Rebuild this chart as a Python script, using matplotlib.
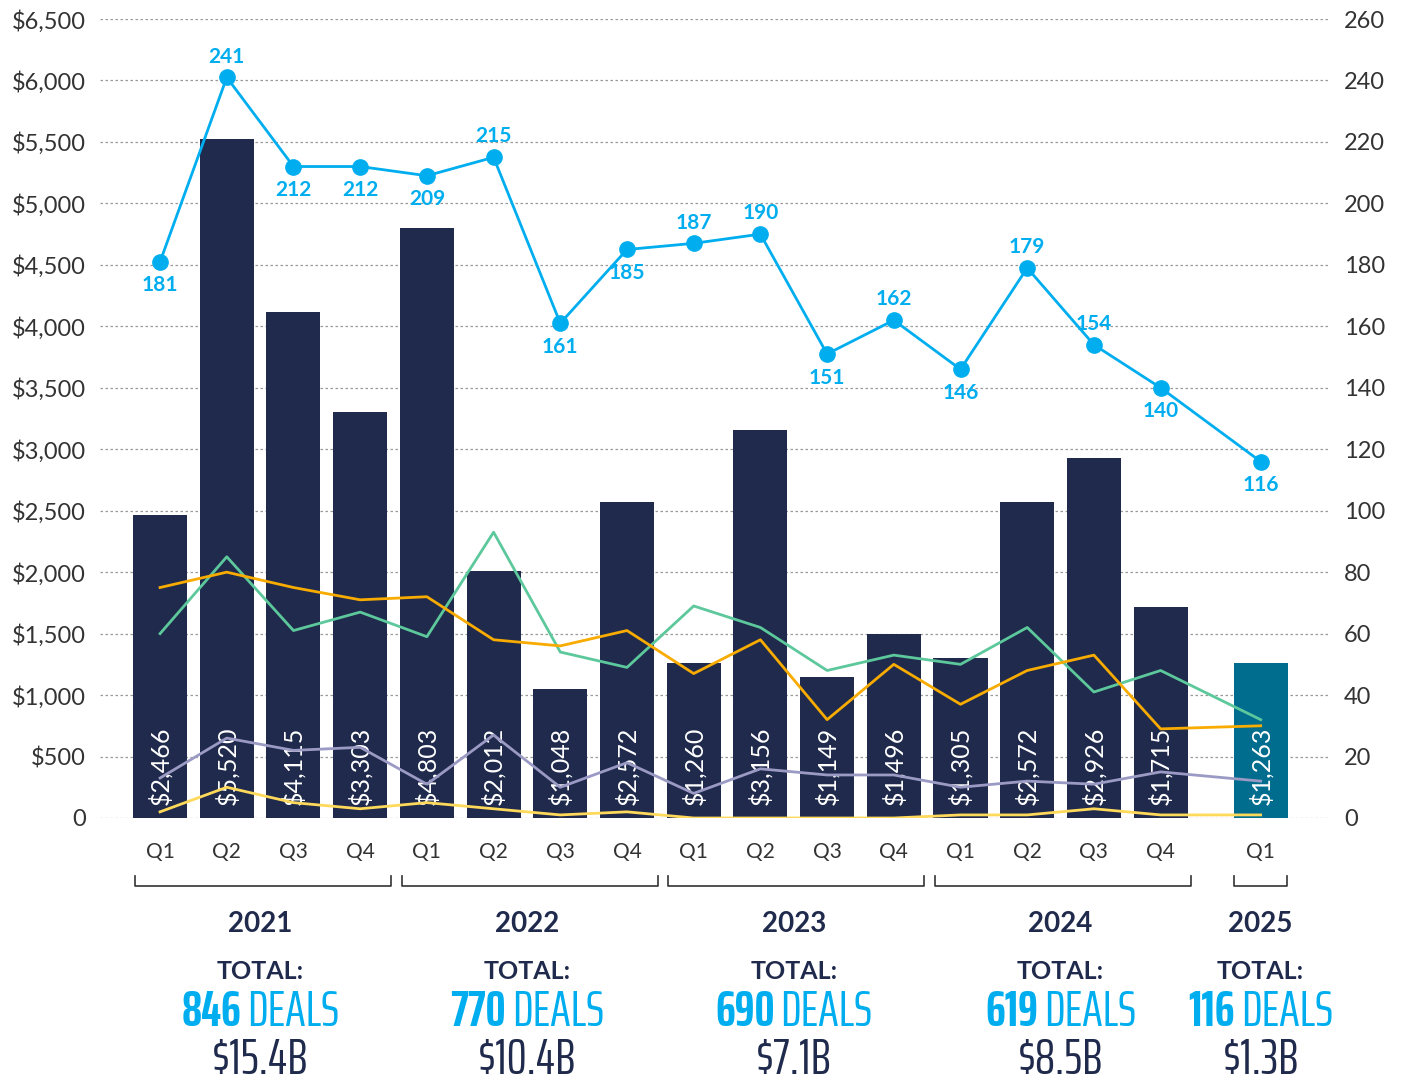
import matplotlib
matplotlib.use("Agg")
import matplotlib.pyplot as plt
import matplotlib.transforms as mtransforms
from matplotlib import font_manager

# --- data ---
quarters = ["Q1", "Q2", "Q3", "Q4"] * 4 + ["Q1"]
deal_value = [2466, 5520, 4115, 3303, 4803, 2012, 1048, 2572,
              1260, 3156, 1149, 1496, 1305, 2572, 2926, 1715, 1263]
deal_count = [181, 241, 212, 212, 209, 215, 161, 185,
              187, 190, 151, 162, 146, 179, 154, 140, 116]
green_line = [60, 85, 61, 67, 59, 93, 54, 49, 69, 62, 48, 53, 50, 62, 41, 48, 32]
orange_line = [75, 80, 75, 71, 72, 58, 56, 61, 47, 58, 32, 50, 37, 48, 53, 29, 30]
purple_line = [13, 26, 22, 23, 11, 27, 10, 18, 8, 16, 14, 14, 10, 12, 11, 15, 12]
yellow_line = [2, 10, 5, 3, 5, 3, 1, 2, 0, 0, 0, 0, 1, 1, 3, 1, 1]
years = ["2021", "2022", "2023", "2024", "2025"]
year_deals = ["846", "770", "690", "619", "116"]
year_totals = ["$15.4B", "$10.4B", "$7.1B", "$8.5B", "$1.3B"]
label_below = [True, False, True, True, True, False, True, True,
               False, False, True, False, True, False, False, True, True]

NAVY = "#1f2a4c"
TEAL = "#006d8f"
BLUE = "#00aeef"
GRAY = "#333333"

names = {f.name for f in font_manager.fontManager.ttflist}
cond = "DejaVu Sans"
for cand in ["Saira ExtraCondensed", "Barlow Condensed", "Roboto Condensed", "Liberation Sans Narrow"]:
    if cand in names:
        cond = cand
        break
plt.rcParams["font.family"] = ["Lato", "DejaVu Sans"]

x = list(range(16)) + [16.5]

fig = plt.figure(figsize=(14.03, 10.81), dpi=100)
ax = fig.add_axes([0.0713, 0.2433, 0.8767, 0.7391])
ax2 = ax.twinx()

colors = [NAVY] * 16 + [TEAL]
ax.bar(x, deal_value, width=0.81, color=colors, zorder=2)
for xi, v in zip(x, deal_value):
    ax.text(xi, 105, f"${v:,}", rotation=90, ha="center", va="bottom",
            color="white", fontsize=18, zorder=3)

ax.set_ylim(0, 6500)
ax.set_yticks(range(0, 6501, 500))
ax.set_yticklabels(["0" if t == 0 else f"${t:,}" for t in range(0, 6501, 500)])
ax.set_xlim(-0.9, 17.54)
ax.grid(axis="y", color="#999999", linestyle=(0, (2, 2)), linewidth=0.9, zorder=0)
ax.set_axisbelow(True)
ax.set_xticks([])
for s in ax.spines.values():
    s.set_visible(False)
for s in ax2.spines.values():
    s.set_visible(False)
ax.tick_params(axis="y", length=0, labelsize=17, labelcolor=GRAY, pad=10)

ax2.set_ylim(0, 260)
ax2.set_yticks(range(0, 261, 20))
ax2.tick_params(axis="y", length=0, labelsize=17, labelcolor=GRAY, pad=10)

ax2.plot(x, green_line, color="#5cc89b", lw=2, zorder=3)
ax2.plot(x, orange_line, color="#f8ab00", lw=2, zorder=3)
ax2.plot(x, purple_line, color="#9b9ac4", lw=2, zorder=3)
ax2.plot(x, yellow_line, color="#ffd95a", lw=2, zorder=3)
ax2.plot(x, deal_count, color=BLUE, lw=2, marker="o", markersize=11, zorder=4)
for xi, c, below in zip(x, deal_count, label_below):
    off = -17 if below else 15
    ax2.annotate(str(c), (xi, c), xytext=(0, off), textcoords="offset points",
                 ha="center", va="center", color=BLUE, fontsize=15, fontweight="bold")

# category axis text
trans = mtransforms.blended_transform_factory(ax.transData, ax.transAxes)
for xi, q in zip(x, quarters):
    ax.text(xi, -0.0426, q, transform=trans, ha="center", va="center",
            fontsize=15, color=GRAY)

# size the condensed font so "DEALS" is about 92 px wide
fig.canvas.draw()
renderer = fig.canvas.get_renderer()
probe = fig.text(0, 0, "DEALS", fontsize=30, family=cond)
fs = 30 * 92 / probe.get_window_extent(renderer).width
probe.remove()

groups = [(0, 3), (4, 7), (8, 11), (12, 15), (16.5, 16.5)]
H = fig.bbox.height
W = fig.bbox.width
for (a, b), yr, dn, tot in zip(groups, years, year_deals, year_totals):
    if a == b:
        l, r = a - 0.4, a + 0.4
    else:
        l, r = a - 0.38, b + 0.46
    ax.plot([l, l, r, r], [-0.0726, -0.085, -0.085, -0.085 + 0.0124], transform=trans,
            color=GRAY, lw=1.2, clip_on=False)
    cx = (a + b) / 2
    ax.text(cx, -0.1327, yr, transform=trans, ha="center", va="center",
            fontsize=20, fontweight="bold", color=NAVY)
    ax.text(cx, -0.1927, "TOTAL:", transform=trans, ha="center", va="center",
            fontsize=18, fontweight="bold", color=NAVY)
    cpx = ax.transData.transform((cx, 0))[0]
    t1 = fig.text(0, 0, dn, fontsize=fs, fontweight="bold", color=BLUE,
                  family=cond, va="center", ha="left")
    t2 = fig.text(0, 0, "DEALS", fontsize=fs, color=BLUE,
                  family=cond, va="center", ha="left")
    w1 = t1.get_window_extent(renderer).width
    w2 = t2.get_window_extent(renderer).width
    gap = 6
    left = cpx - (w1 + gap + w2) / 2
    yf = 1 - 1013 / 1081
    t1.set_position((left / W, yf))
    t2.set_position(((left + w1 + gap) / W, yf))
    fig.text(cpx / W, 1 - 1060 / 1081, tot, fontsize=fs, color=NAVY,
             family=cond, va="center", ha="center")

fig.savefig("out.png", dpi=100)
